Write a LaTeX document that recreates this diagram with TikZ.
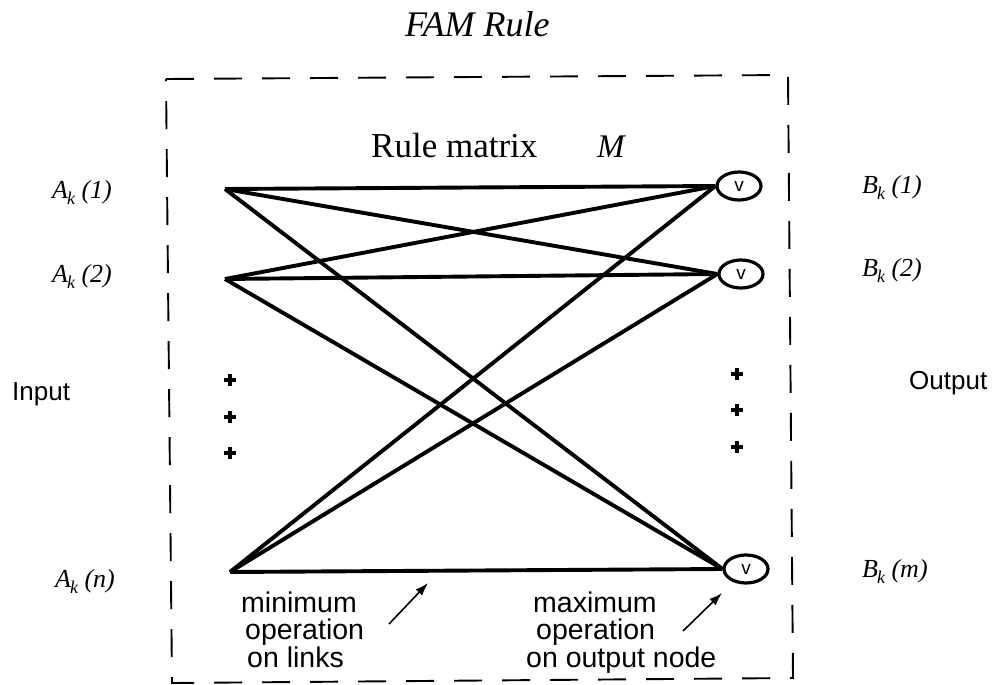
\documentclass[tikz,border=0pt]{standalone}
\usepackage{fontspec}
\setmainfont{Liberation Serif}
\setsansfont{Liberation Sans}
\usetikzlibrary{arrows.meta,shapes.geometric}
\newcommand{\fs}[1]{\fontsize{#1}{#1}\selectfont}
\newcommand{\subk}{\kern-1pt\raisebox{-6pt}{\fs{18}k}}
\begin{document}
\begin{tikzpicture}[x=1pt,y=-1pt,
  conn/.style={line width=3.9pt, line join=round},
  orop/.style={draw, ellipse, minimum width=44pt, minimum height=28pt, inner sep=0pt, line width=3.2pt, font=\sffamily\fs{19}},
  italab/.style={anchor=base west, inner sep=0pt, font=\itshape\fs{26}},
  sanslab/.style={anchor=base west, inner sep=0pt, font=\sffamily\fs{26}},
  note/.style={anchor=base west, inner sep=0pt, align=left, font=\sffamily\fontsize{28.5}{27.5}\selectfont},
  pointer/.style={line width=1.6pt, -{Latex[length=13pt,width=9pt]}},
  plusmark/.pic={\draw[line width=3.6pt] (-6,0) -- (6,0) (0,-6) -- (0,6);}
]
\useasboundingbox (0,0) rectangle (993,685);

% title
\node[anchor=base west, inner sep=0pt, font=\itshape\fs{36}] (title) at (405,37) {FAM Rule};

% dashed frame
\draw[line width=1.9pt, dash pattern=on 28pt off 20pt] (166,79) -- (788,75) -- (793,678) -- (172,683) -- cycle;

% rule matrix label
\node[anchor=base west, inner sep=0pt, font=\fs{35}] (rm) at (371,157) {Rule matrix};
\node[anchor=base west, inner sep=0pt, font=\itshape\fs{33}] (M) at (597,157) {M};

% input points
\coordinate (A1) at (225,189);
\coordinate (A2) at (225,279);
\coordinate (An) at (230,572);

% output nodes
\node[orop] (B1) at (739,186) {v};
\node[orop] (B2) at (741,274) {v};
\node[orop] (Bm) at (746,569) {v};

% links
\foreach \a in {A1,A2,An}{
  \foreach \b in {B1,B2,Bm}{
    \draw[conn] (\a) -- (\b.west);
  }
}

% labels
\node[italab] (LA1) at (52,198) {A\subk\ (1)};
\node[italab] (LA2) at (52,282) {A\subk\ (2)};
\node[italab] (LAn) at (55,587) {A\subk\ (n)};
\node[italab] (LB1) at (862,193) {B\subk\ (1)};
\node[italab] (LB2) at (862,276) {B\subk\ (2)};
\node[italab] (LBm) at (862,577) {B\subk\ (m)};

\node[sanslab] (inp) at (12,400) {Input};
\node[sanslab] (outp) at (909,389) {Output};

% dots
\pic at (230,380) {plusmark};
\pic at (230,417) {plusmark};
\pic at (230,453) {plusmark};
\pic at (737,374) {plusmark};
\pic at (737,410) {plusmark};
\pic at (737,447) {plusmark};

% notes
\node[note] (minop) at (241,667) {minimum\\\hspace*{4pt}operation\\\hspace*{6pt}on links};
\node[note] (maxop) at (533,667) {maximum\\\hspace*{3pt}operation\\\hspace*{-7pt}on output node};

\coordinate (p1s) at (389,624);
\coordinate (p1e) at (428,583);
\coordinate (p2s) at (683,631);
\coordinate (p2e) at (722,593);
\draw[pointer] (p1s) -- (p1e);
\draw[pointer] (p2s) -- (p2e);
\end{tikzpicture}
\end{document}
